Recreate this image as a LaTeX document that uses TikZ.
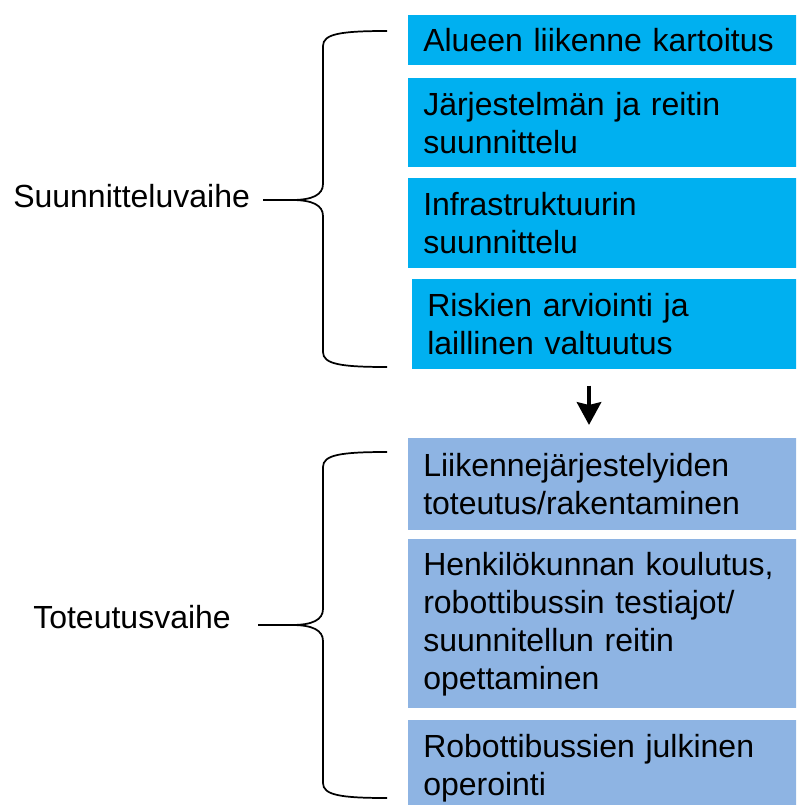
\documentclass[tikz,border=0pt]{standalone}
\usepackage{fontspec}
\setmainfont{Liberation Sans}
\usetikzlibrary{arrows.meta}
\definecolor{plancyan}{RGB}{0,176,240}
\definecolor{buildblue}{RGB}{142,180,227}

\begin{document}
\begin{tikzpicture}[
    x=0.75pt, y=-0.75pt, % work on the pixel grid of the slide
    box/.style      = {rectangle, anchor=north west, inner xsep=11.25pt, inner ysep=0pt,
                       text width=271.5pt, align=left, font=\fontsize{24pt}{28.5pt}\selectfont},
    planbox/.style  = {box, fill=plancyan},
    buildbox/.style = {box, fill=buildblue},
    phase/.style    = {anchor=base west, inner xsep=0pt, font=\fontsize{24pt}{28.5pt}\selectfont},
    brace/.style    = {line width=1.3pt, draw=black},
    flow/.style     = {-{Stealth[width=18pt, length=17pt, inset=2pt]}, line width=3.5pt,
                       shorten <=12pt, shorten >=9.75pt}
  ]
  \useasboundingbox (0,0) rectangle (796,805);
  \clip (0,0) rectangle (796,805);

  % ===== Planning phase =====
  \node[planbox, minimum height=37.5pt]  (p1) at (408,15)  {Alueen liikenne kartoitus};
  \node[planbox, minimum height=66.75pt] (p2) at (408,78)  {Järjestelmän ja reitin\\suunnittelu};
  \node[planbox, minimum height=67.5pt]  (p3) at (408,178) {Infrastruktuurin\\suunnittelu};
  \node[planbox, minimum height=67.5pt]  (p4) at (412,279) {Riskien arviointi ja\\laillinen valtuutus};

  % ===== Implementation phase =====
  \node[buildbox, minimum height=69pt]     (b1) at (408,438) {Liikennejärjestelyiden\\toteutus/rakentaminen};
  \node[buildbox, minimum height=126.75pt] (b2) at (408,539) {Henkilökunnan koulutus,\\robottibussin testiajot/\\suunnitellun reitin\\opettaminen};
  \node[buildbox, minimum height=71.25pt]  (b3) at (408,720) {Robottibussien julkinen\\operointi};

  % Phase labels
  \node[phase] (planlab)  at (13,208) {Suunnitteluvaihe};
  \node[phase] (buildlab) at (33,628) {Toteutusvaihe};

  % Braces
  \foreach \ya/\yb/\ym/\xl in {31/367/200/263, 452/798/625/258}{
    \draw[brace] (387,\ya) .. controls (340,\ya) and (323,\ya+3) .. (323,\ya+15)
      -- (323,\ym-16) .. controls (323,\ym-5) and (312,\ym) .. (292,\ym) -- (\xl,\ym);
    \draw[brace] (292,\ym) .. controls (312,\ym) and (323,\ym+5) .. (323,\ym+16)
      -- (323,\yb-15) .. controls (323,\yb-3) and (340,\yb) .. (387,\yb);
  }

  % Step arrow
  \coordinate (axis) at (589,0);
  \draw[flow] (p4.south -| axis) -- (b1.north -| axis);

\end{tikzpicture}
\end{document}
